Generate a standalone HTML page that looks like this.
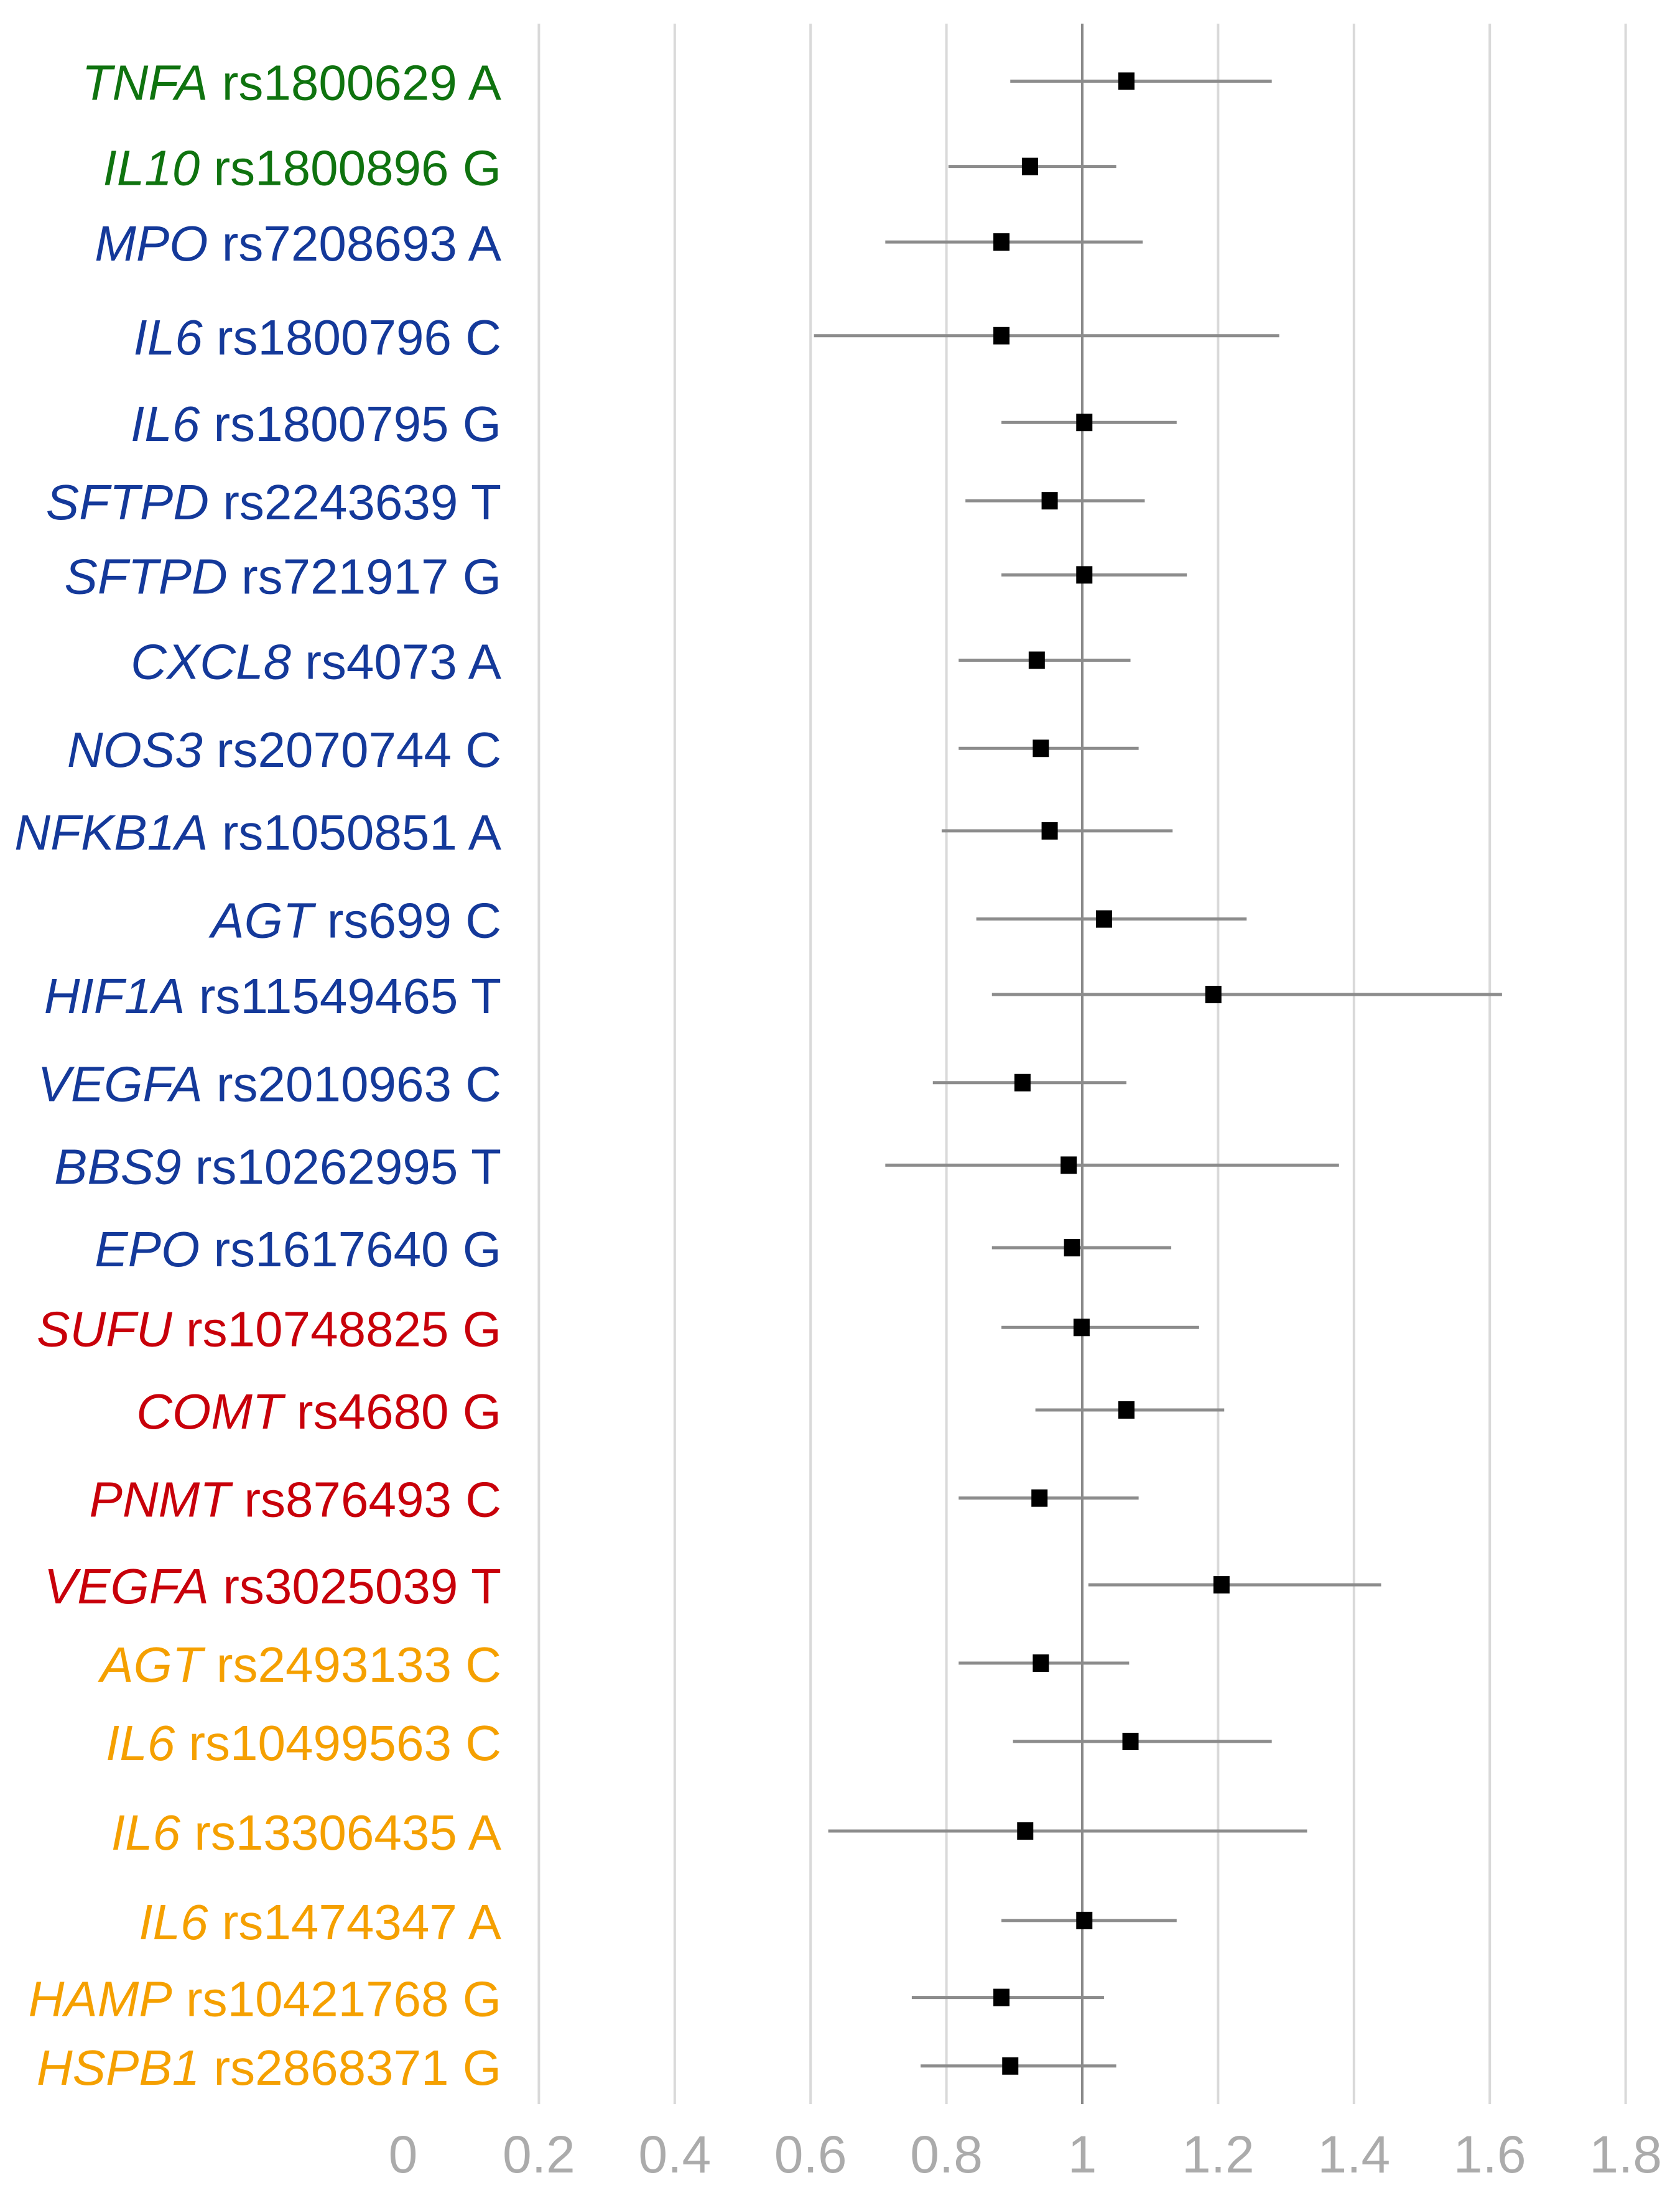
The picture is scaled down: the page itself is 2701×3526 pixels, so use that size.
<!DOCTYPE html>
<html><head><meta charset="utf-8"><style>
html,body{margin:0;padding:0;background:#fff;}
svg{display:block;}
</style></head><body>
<svg id="chart" width="2701" height="3526" xmlns="http://www.w3.org/2000/svg" font-family="'Liberation Sans', sans-serif"></svg>
<script>
const genes = ["TNFA","IL10","MPO","IL6","IL6","SFTPD","SFTPD","CXCL8","NOS3","NFKB1A","AGT","HIF1A","VEGFA","BBS9","EPO","SUFU","COMT","PNMT","VEGFA","AGT","IL6","IL6","IL6","HAMP","HSPB1"];
const snps = ["rs1800629 A","rs1800896 G","rs7208693 A","rs1800796 C","rs1800795 G","rs2243639 T","rs721917 G","rs4073 A","rs2070744 C","rs1050851 A","rs699 C","rs11549465 T","rs2010963 C","rs10262995 T","rs1617640 G","rs10748825 G","rs4680 G","rs876493 C","rs3025039 T","rs2493133 C","rs10499563 C","rs13306435 A","rs1474347 A","rs10421768 G","rs2868371 G"];
const groups = ["g","g","b","b","b","b","b","b","b","b","b","b","b","b","b","r","r","r","r","o","o","o","o","o","o"];
const orValues = [1.065,0.923,0.881,0.881,1.003,0.952,1.003,0.933,0.939,0.952,1.032,1.193,0.912,0.980,0.985,0.999,1.065,0.937,1.205,0.939,1.071,0.916,1.003,0.881,0.894];
const ciLow = [0.894,0.803,0.710,0.605,0.881,0.828,0.881,0.818,0.818,0.793,0.844,0.867,0.780,0.710,0.867,0.881,0.931,0.818,1.009,0.818,0.898,0.626,0.881,0.749,0.762];
const ciHigh = [1.279,1.050,1.089,1.290,1.139,1.092,1.154,1.071,1.083,1.133,1.242,1.618,1.065,1.378,1.131,1.172,1.209,1.083,1.440,1.069,1.279,1.331,1.139,1.032,1.050];
const rowPos = [58,119,173,240,302,358,411,472,535,594,657,711,774,833,892,949,1008,1071,1133,1189,1245,1309,1373,1428,1477];
const ticks = [0,0.2,0.4,0.6,0.8,1,1.2,1.4,1.6,1.8];
const tickLabels = ["0","0.2","0.4","0.6","0.8","1","1.2","1.4","1.6","1.8"];

const colors = {g:"#0f730f", b:"#14399a", r:"#c8000a", o:"#f5a000"};
const NS = "http://www.w3.org/2000/svg";
const svg = document.getElementById('chart');
const x = v => 1740 + (v - 1) * 1092;
const y = r => r * 2.249;
function mk(tag, attrs, parent){const e=document.createElementNS(NS,tag);for(const k in attrs)e.setAttribute(k,attrs[k]);(parent||svg).appendChild(e);return e;}

ticks.forEach((t,i)=>{
  if(t!==1 && t!==0){
    const g=mk('line',{x1:x(t),x2:x(t),y1:38,y2:3383,stroke:'#d9d9d9','stroke-width':4});
    
    
  }
  const tl=mk('text',{x:x(t),y:3493,'text-anchor':'middle','font-size':84,fill:'#ababab'});
  tl.textContent=tickLabels[i];
  
  
});
const ref=mk('line',{x1:x(1),x2:x(1),y1:38,y2:3383,stroke:'#8a8a8a','stroke-width':4});



genes.forEach((g,i)=>{
  const cy=y(rowPos[i]);
  const t=mk('text',{x:806,y:cy+30,'text-anchor':'end','font-size':80,fill:colors[groups[i]]});
  
  
  const a=mk('tspan',{'font-style':'italic'},t);a.textContent=g;
  const b=mk('tspan',{},t);b.textContent=' '+snps[i];
  const l=mk('line',{x1:x(ciLow[i]),x2:x(ciHigh[i]),y1:cy,y2:cy,stroke:'#8c8c8c','stroke-width':5});
  
  
  const m=mk('rect',{x:x(orValues[i])-13,y:cy-14,width:26,height:28,fill:'#000'});
  
  
});
</script>
</body></html>
